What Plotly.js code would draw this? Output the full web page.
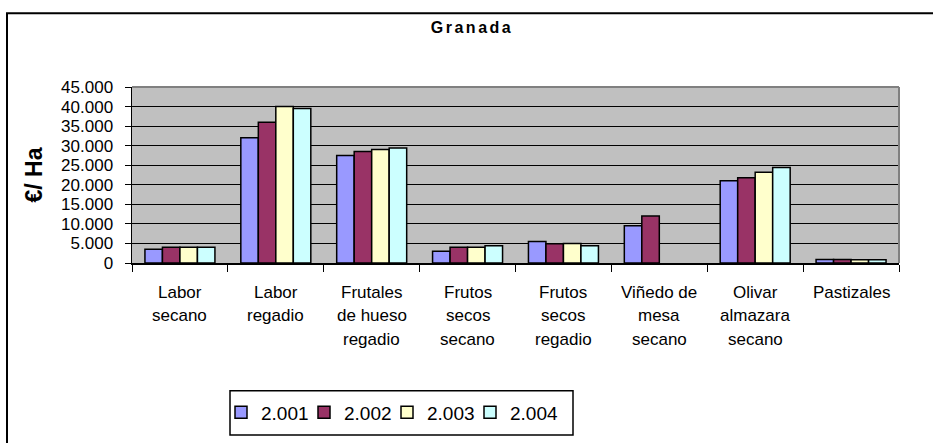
<!DOCTYPE html>
<html>
<head>
<meta charset="utf-8">
<script src="https://cdn.plot.ly/plotly-3.0.1.min.js"></script>
<style>
  html, body { margin: 0; padding: 0; background: #fff; }
  #chart { width: 933px; height: 443px; }
  .gtitle { letter-spacing: 2.5px; }
  .legend .scrollbox { clip-path: none !important; }
</style>
</head>
<body>
<div id="chart"></div>
<script>
// ---- data ----
const categories = ["Labor secano", "Labor regadio", "Frutales de hueso regadio", "Frutos secos secano",
                    "Frutos secos regadio", "Viñedo de mesa secano", "Olivar almazara secano", "Pastizales"];
const categoryLines = [
  ["Labor", "secano"],
  ["Labor", "regadio"],
  ["Frutales", "de hueso", "regadio"],
  ["Frutos", "secos", "secano"],
  ["Frutos", "secos", "regadio"],
  ["Viñedo de", "mesa", "secano"],
  ["Olivar", "almazara", "secano"],
  ["Pastizales"]
];
const seriesNames = ["2.001", "2.002", "2.003", "2.004"];
const v2001 = [3500, 32000, 27500, 3000, 5500, 9500, 21000, 900];
const v2002 = [4000, 36000, 28500, 4000, 4900, 12000, 21800, 900];
const v2003 = [4000, 40000, 29000, 4000, 5000, null, 23200, 800];
const v2004 = [4000, 39500, 29400, 4400, 4400, null, 24400, 800];
const seriesValues = [v2001, v2002, v2003, v2004];
const seriesColors = ["#9999FF", "#993366", "#FFFFCC", "#CCFFFF"];

const FONT = "Arial, 'Liberation Sans', sans-serif";

const traces = seriesNames.map((name, i) => ({
  type: "bar",
  name: name,
  x: categories,
  y: seriesValues[i],
  marker: { color: seriesColors[i], line: { color: "#000000", width: 1.5 } },
  hoverinfo: "x+y+name"
}));

// x category labels, one annotation per line
const lineShifts = [-29, -52, -76];
const annotations = [];
categories.forEach((c, ci) => {
  categoryLines[ci].forEach((txt, li) => {
    annotations.push({
      xref: "x", yref: "paper", x: c, y: 0, yanchor: "middle",
      yshift: lineShifts[li], text: txt, showarrow: false,
      font: { family: FONT, size: 17, color: "#000" }
    });
  });
});

// plot area: x 132..899, y 87..266
const L = 132, R = 899, T = 87, B = 266, W = 933, H = 443;
const px = v => (v - L) / (R - L);
const py = v => (B - v) / (B - T);

const shapes = [
  // outer chart border
  { type: "rect", xref: "paper", yref: "paper", x0: px(7), x1: px(940), y0: py(460), y1: py(12),
    line: { color: "#000", width: 2 }, layer: "above" },
  // plot area top / right gray border
  { type: "line", xref: "paper", yref: "paper", x0: 0, x1: 1, y0: 1, y1: 1,
    line: { color: "#808080", width: 2 }, layer: "above" },
  { type: "line", xref: "paper", yref: "paper", x0: 1, x1: 1, y0: 0, y1: 1,
    line: { color: "#808080", width: 2 }, layer: "above" },
  // legend box
  { type: "rect", xref: "paper", yref: "paper", x0: px(230), x1: px(573), y0: py(441), y1: py(396),
    line: { color: "#000", width: 1.5 }, layer: "above" }
];

const layout = {
  width: W, height: H,
  margin: { l: L, r: W - R, t: T, b: H - B, pad: 0 },
  paper_bgcolor: "#ffffff",
  plot_bgcolor: "#C0C0C0",
  separators: ",.",
  font: { family: FONT, color: "#000" },
  title: {
    text: "<b>Granada</b>",
    font: { family: FONT, size: 16, color: "#000" },
    x: 472 / W, xanchor: "center", xref: "container",
    y: 1 - 27 / H, yanchor: "middle", yref: "container"
  },
  barmode: "group",
  bargap: 0.27,
  bargroupgap: 0,
  xaxis: {
    type: "category",
    showticklabels: false,
    ticks: "outside", tickson: "boundaries", ticklen: 7, tickcolor: "#000", tickwidth: 1,
    showline: true, linecolor: "#000", linewidth: 1.5,
    showgrid: false, zeroline: false, fixedrange: true
  },
  yaxis: {
    range: [0, 45000], dtick: 5000, tick0: 0, tickformat: ",d",
    ticks: "outside", ticklen: 6, tickcolor: "#000", tickwidth: 1,
    ticklabelstandoff: 8,
    tickfont: { family: FONT, size: 17, color: "#000" },
    showline: true, linecolor: "#000", linewidth: 1.5,
    showgrid: true, gridcolor: "#000", gridwidth: 1,
    zeroline: false, fixedrange: true,
    title: { text: "<b>€/ Ha</b>", font: { family: FONT, size: 23, color: "#000" }, standoff: 12 }
  },
  showlegend: true,
  legend: {
    orientation: "h",
    x: px(221), xanchor: "left",
    y: py(418), yanchor: "middle",
    bgcolor: "rgba(0,0,0,0)", borderwidth: 0,
    font: { family: FONT, size: 19, color: "#000" },
    entrywidth: 38, entrywidthmode: "pixels",
    traceorder: "normal"
  },
  annotations: annotations,
  shapes: shapes
};

Plotly.newPlot("chart", traces, layout, { displayModeBar: false, staticPlot: true });
</script>
</body>
</html>
